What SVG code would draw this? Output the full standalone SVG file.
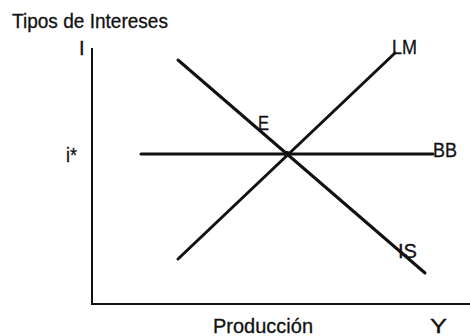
<svg xmlns="http://www.w3.org/2000/svg" width="470" height="336" viewBox="0 0 470 336">
<style>
text{font-family:"Liberation Sans",Arial,sans-serif;fill:#111;font-size:20px;stroke:#111;stroke-width:0.3}
.ax{stroke:#111;stroke-width:2;fill:none}
.cv{stroke:#111;stroke-width:3;fill:none;stroke-linecap:round}
</style>
<rect width="470" height="336" fill="#fff"/>
<g id="axes">
<path class="ax" d="M92 48V304H470"/>
<text x="12" y="28" textLength="156" lengthAdjust="spacingAndGlyphs">Tipos de Intereses</text>
<text x="79" y="55">I</text>
<text x="66" y="162" textLength="11" lengthAdjust="spacingAndGlyphs">i*</text>
<text x="213" y="333" textLength="100" lengthAdjust="spacingAndGlyphs">Producción</text>
<text x="430" y="333" textLength="17" lengthAdjust="spacingAndGlyphs">Y</text>
</g>
<g id="connectors">
<line id="IS" class="cv" x1="178" y1="60" x2="425" y2="273"/>
<line id="LM" class="cv" x1="178" y1="259" x2="395" y2="53"/>
<line id="BB" class="cv" stroke-width="2.5" x1="141" y1="154" x2="433" y2="154"/>
</g>
<g id="E"><circle cx="287" cy="154" r="3" fill="#111"/><text x="258" y="130" textLength="11" lengthAdjust="spacingAndGlyphs">E</text></g>
<g id="LM-label"><text x="392" y="54" textLength="25" lengthAdjust="spacingAndGlyphs">LM</text></g>
<g id="BB-label"><text x="433" y="157" textLength="24" lengthAdjust="spacingAndGlyphs">BB</text></g>
<g id="IS-label"><text x="398" y="258" textLength="19" lengthAdjust="spacingAndGlyphs">IS</text></g>
</svg>
